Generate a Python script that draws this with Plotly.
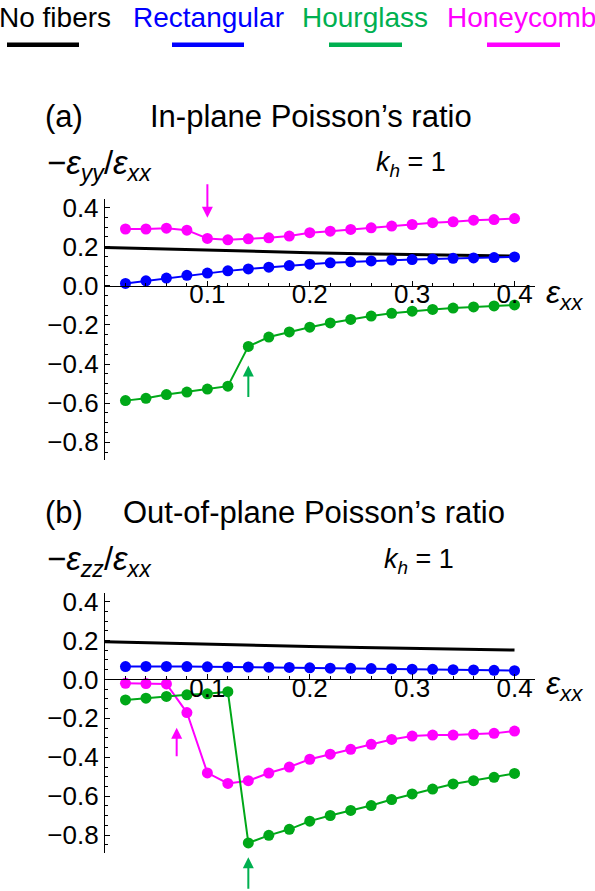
import plotly.graph_objects as go

# ---------------- data ----------------
strain = [0.02, 0.04, 0.06, 0.08, 0.10, 0.12, 0.14, 0.16, 0.18, 0.20,
          0.22, 0.24, 0.26, 0.28, 0.30, 0.32, 0.34, 0.36, 0.38, 0.40]

nofib_strain = [0.0, 0.05, 0.10, 0.15, 0.20, 0.25, 0.30, 0.35, 0.40]
nofib_inplane = [0.195, 0.188, 0.181, 0.175, 0.169, 0.164, 0.159, 0.155, 0.151]
nofib_outplane = [0.194, 0.187, 0.181, 0.175, 0.169, 0.164, 0.159, 0.155, 0.151]

rect_inplane = [0.012, 0.025, 0.039, 0.053, 0.065, 0.076, 0.086, 0.095, 0.103, 0.110,
                0.117, 0.122, 0.127, 0.131, 0.134, 0.137, 0.140, 0.142, 0.144, 0.147]
hour_inplane = [-0.587, -0.575, -0.556, -0.543, -0.528, -0.513, -0.310, -0.262, -0.236, -0.212,
                -0.190, -0.172, -0.155, -0.141, -0.130, -0.121, -0.114, -0.108, -0.103, -0.098]
honey_inplane = [0.290, 0.290, 0.294, 0.284, 0.242, 0.235, 0.240, 0.245, 0.254, 0.271,
                 0.279, 0.288, 0.296, 0.305, 0.313, 0.322, 0.327, 0.335, 0.338, 0.343]

rect_outplane = [0.066, 0.067, 0.067, 0.066, 0.065, 0.064, 0.064, 0.063, 0.062, 0.060,
                 0.058, 0.057, 0.056, 0.055, 0.053, 0.052, 0.050, 0.049, 0.047, 0.045]
hour_outplane = [-0.105, -0.096, -0.087, -0.079, -0.074, -0.063, -0.840, -0.801, -0.770, -0.728,
                 -0.699, -0.673, -0.648, -0.617, -0.588, -0.563, -0.537, -0.520, -0.503, -0.483]
honey_outplane = [-0.020, -0.021, -0.023, -0.170, -0.480, -0.534, -0.520, -0.481, -0.450, -0.410,
                  -0.384, -0.359, -0.333, -0.308, -0.291, -0.286, -0.286, -0.282, -0.277, -0.265]

series_names = ["No fibers", "Rectangular", "Hourglass", "Honeycomb"]
x_tick_vals = [0.1, 0.2, 0.3, 0.4]
y_tick_vals = [-0.8, -0.6, -0.4, -0.2, 0.0, 0.2, 0.4]

# ---------------- styling ----------------
W, H = 595, 891
FONT = "Liberation Sans, Arial, sans-serif"
C_BLACK = "#000000"
C_BLUE = "#0000FF"
C_GREEN = "#00A818"
C_GREEN_TXT = "#00B050"
C_MAG = "#FF00FF"
legend_colors = [C_BLACK, C_BLUE, C_GREEN_TXT, C_MAG]

X_RANGE = [0.0, 0.42]
Y_RANGE = [-0.89, 0.445]
X_DOM = [105 / W, 535 / W]
TOP_DOM = [0.4871, 0.7823]
BOT_DOM = [0.0433, 0.3369]


def zero_pos(dom):
    return dom[0] + (0 - Y_RANGE[0]) / (Y_RANGE[1] - Y_RANGE[0]) * (dom[1] - dom[0])


fig = go.Figure()


def add_panel(xa, ya, rect, hour, honey, nofib):
    fig.add_trace(go.Scatter(x=nofib_strain, y=nofib, mode="lines",
                             line=dict(color=C_BLACK, width=3),
                             xaxis=xa, yaxis=ya, showlegend=False, cliponaxis=False))
    for vals, col in [(rect, C_BLUE), (honey, C_MAG), (hour, C_GREEN)]:
        fig.add_trace(go.Scatter(x=strain, y=vals, mode="lines+markers",
                                 line=dict(color=col, width=2),
                                 marker=dict(color=col, size=11),
                                 xaxis=xa, yaxis=ya, showlegend=False, cliponaxis=False))


add_panel("x", "y", rect_inplane, hour_inplane, honey_inplane, nofib_inplane)
add_panel("x2", "y2", rect_outplane, hour_outplane, honey_outplane, nofib_outplane)

xcommon = dict(range=X_RANGE, domain=X_DOM, showgrid=False, zeroline=False,
               showline=True, linecolor="black", linewidth=1.4,
               ticks="inside", ticklen=5, tickwidth=1.2, tickcolor="black",
               tickmode="array", tickvals=x_tick_vals, tickformat=".1f",
               tickfont=dict(family=FONT, size=26, color="black"),
               ticklabelstandoff=-15,
               minor=dict(tickmode="linear", tick0=0, dtick=0.02, ticks="inside",
                          ticklen=3, tickwidth=1, tickcolor="black"),
               anchor="free", fixedrange=True)
ycommon = dict(range=Y_RANGE, showgrid=False, zeroline=False,
               showline=True, linecolor="black", linewidth=1.4,
               ticks="inside", ticklen=5, tickwidth=1.2, tickcolor="black",
               tickmode="array", tickvals=y_tick_vals, tickformat=".1f",
               tickfont=dict(family=FONT, size=26, color="black"),
               minor=dict(tickmode="linear", tick0=0, dtick=0.05, ticks="inside",
                          ticklen=3, tickwidth=1, tickcolor="black"),
               fixedrange=True)

fig.update_layout(
    width=W, height=H, margin=dict(l=0, r=0, t=0, b=0),
    paper_bgcolor="white", plot_bgcolor="rgba(0,0,0,0)",
    showlegend=False,
    xaxis=dict(**xcommon, position=zero_pos(TOP_DOM)),
    yaxis=dict(**ycommon, domain=TOP_DOM, anchor="x"),
    xaxis2=dict(**xcommon, position=zero_pos(BOT_DOM)),
    yaxis2=dict(**ycommon, domain=BOT_DOM, anchor="x2"),
)

ann = []
shapes = []


def px_x(p):
    return p / W


def px_y(p):
    return (H - p) / H


# legend: text above a short line sample
leg_text_cx = [55, 208, 365, 521]
leg_line = [(7, 79), (172, 244), (329, 402), (487, 560)]
for name, col, cx, (l0, l1) in zip(series_names, legend_colors, leg_text_cx, leg_line):
    ann.append(dict(text=name, x=px_x(cx), y=px_y(12), xref="paper", yref="paper",
                    xanchor="center", yanchor="middle", showarrow=False,
                    font=dict(family=FONT, size=28, color=col)))
    shapes.append(dict(type="line", xref="paper", yref="paper",
                       x0=px_x(l0), x1=px_x(l1), y0=px_y(39), y1=px_y(39),
                       line=dict(color=col, width=4.5)))

# panel labels, titles
for lab, title, yc, tx in [("(a)", "In-plane Poisson’s ratio", 111, 148),
                           ("(b)", "Out-of-plane Poisson’s ratio", 510, 121)]:
    ann.append(dict(text=lab, x=px_x(43), y=px_y(yc), xref="paper", yref="paper",
                    xanchor="left", yanchor="middle", showarrow=False,
                    font=dict(family=FONT, size=31, color="black")))
    ann.append(dict(text=title, x=px_x(tx), y=px_y(yc),
                    xref="paper", yref="paper", xanchor="left", yanchor="middle",
                    showarrow=False, font=dict(family=FONT, size=31, color="black")))

# y-axis labels
for txt, yc in [("−<i>ε</i><sub><i>yy</i></sub>/<i>ε</i><sub><i>xx</i></sub>", 160),
                ("−<i>ε</i><sub><i>zz</i></sub>/<i>ε</i><sub><i>xx</i></sub>", 559)]:
    ann.append(dict(text=txt, x=px_x(45), y=px_y(yc), xref="paper", yref="paper",
                    xanchor="left", yanchor="middle", showarrow=False,
                    font=dict(family=FONT, size=33, color="black")))

# k_h = 1
for xl, yc in [(374, 159), (382, 559)]:
    ann.append(dict(text="<i>k</i><sub><i>h</i></sub> = 1", x=px_x(xl), y=px_y(yc),
                    xref="paper", yref="paper", xanchor="left", yanchor="middle",
                    showarrow=False, font=dict(family=FONT, size=27, color="black")))

# x-axis labels
for yc in [290, 684]:
    ann.append(dict(text="<i>ε</i><sub><i>xx</i></sub>", x=px_x(544), y=px_y(yc),
                    xref="paper", yref="paper", xanchor="left", yanchor="middle",
                    showarrow=False, font=dict(family=FONT, size=32, color="black")))

# arrows marking transitions
arrow_style = dict(showarrow=True, arrowhead=2, arrowsize=1.1, arrowwidth=2,
                   standoff=0, text="", ax=0)
ann.append(dict(x=0.10, y=0.348, xref="x", yref="y", ay=-35,
                arrowcolor=C_MAG, **arrow_style))
ann.append(dict(x=0.14, y=-0.408, xref="x", yref="y", ay=33,
                arrowcolor=C_GREEN_TXT, **arrow_style))
ann.append(dict(x=0.07, y=-0.248, xref="x2", yref="y2", ay=30,
                arrowcolor=C_MAG, **arrow_style))
ann.append(dict(x=0.14, y=px_y(857), xref="x2", yref="paper", ay=33,
                arrowcolor=C_GREEN_TXT, **arrow_style))

fig.update_layout(annotations=ann, shapes=shapes)

fig.write_html("out.html")
